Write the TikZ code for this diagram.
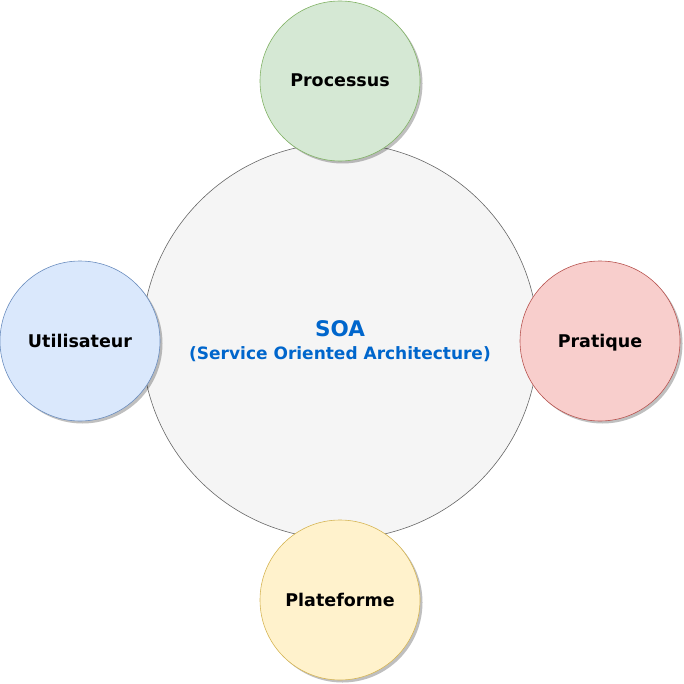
\documentclass[tikz,border=0pt]{standalone}
\usepackage{tikz}
\usepackage{xcolor}
\usepackage{fontspec}
\setmainfont{DejaVu Sans}
\usetikzlibrary{shadows}

\definecolor{soaFill}{HTML}{F5F5F5}
\definecolor{soaLine}{HTML}{666666}
\definecolor{soaText}{HTML}{0066CC}
\definecolor{procFill}{HTML}{D5E8D4}
\definecolor{procLine}{HTML}{82B366}
\definecolor{userFill}{HTML}{DAE8FC}
\definecolor{userLine}{HTML}{6C8EBF}
\definecolor{pratFill}{HTML}{F8CECC}
\definecolor{pratLine}{HTML}{B85450}
\definecolor{platFill}{HTML}{FFF2CC}
\definecolor{platLine}{HTML}{D6B656}

\begin{document}
\begin{tikzpicture}[x=1pt, y=-1pt,
        bigcircle/.style={circle, draw=soaLine, fill=soaFill, line width=0.6pt,
                          minimum size=396pt, inner sep=0pt, align=center},
        smallcircle/.style={circle, line width=0.6pt, minimum size=160pt, inner sep=0pt,
                            text height=14pt, text depth=2pt,
                            font=\bfseries\fontsize{17.5}{21}\selectfont,
                            drop shadow={shadow xshift=2.5pt, shadow yshift=-2.5pt,
                                         fill=black, opacity=0.25}}]
        \useasboundingbox (0,0) rectangle (683,684);
        \node[bigcircle] (soa) at (340,341)
             {\textcolor{soaText}{\bfseries\fontsize{21.5}{26}\selectfont SOA}\\[9pt]
              \textcolor{soaText}{\bfseries\fontsize{17}{21}\selectfont (Service Oriented Architecture)}};
        \node[smallcircle, draw=procLine, fill=procFill] (processus)   at (340,81)  {Processus};   %haut
        \node[smallcircle, draw=userLine, fill=userFill] (utilisateur) at (80,341)  {Utilisateur}; %gauche
        \node[smallcircle, draw=pratLine, fill=pratFill] (pratique)    at (600,341) {Pratique};    %droite
        \node[smallcircle, draw=platLine, fill=platFill] (plateforme)  at (340,600) {Plateforme};  %bas
    \end{tikzpicture}
\end{document}
